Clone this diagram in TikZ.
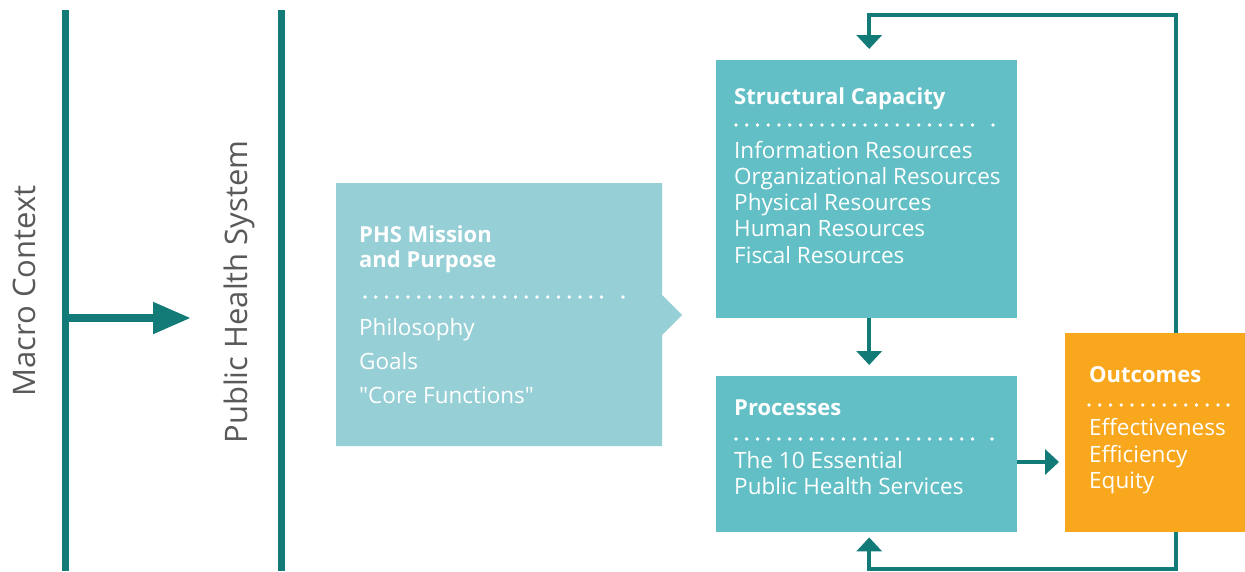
\documentclass[tikz,border=0pt]{standalone}
\usepackage{fontspec}
\setmainfont{Open Sans}
\usepackage{tikz}
\usetikzlibrary{arrows.meta}
\usetikzlibrary{calc}
\usetikzlibrary{positioning}
\definecolor{phs-teal}{HTML}{127B78}
\definecolor{phs-pale}{HTML}{96CFD5}
\definecolor{phs-aqua}{HTML}{62BFC5}
\definecolor{phs-orange}{HTML}{F9A71D}
\definecolor{phs-grey}{HTML}{58595B}

% straight double quote, past the tex-text mapping
\newcommand{\dquote}{\XeTeXglyph\XeTeXcharglyph"22\relax}
% row of dots under a box title: start, gaps, step, y, last dot
\newcommand{\dotrule}[5]{%
  \foreach \k in {0,...,#2} \fill[white] ({#1+\k*#3},#4) circle (1.8pt);
  \fill[white] (#5,#4) circle (1.8pt);}

\begin{document}
\begin{tikzpicture}[x=1pt, y=-1pt, line join=miter,
    box/.style={draw=none, inner sep=0pt, anchor=north west},
    boxtitle/.style={text=white, anchor=base west, inner sep=0pt, font=\fontsize{22}{26}\selectfont\bfseries},
    boxitem/.style={text=white, anchor=base west, inner sep=0pt, font=\fontsize{22.5}{27}\selectfont},
    sidelabel/.style={text=phs-grey, rotate=90, anchor=base, inner sep=0pt, font=\fontsize{31}{36}\selectfont},
    wall/.style={draw=phs-teal, line width=7pt},
    loop/.style={draw=phs-teal, line width=3.5pt, -{Triangle[width=25pt, length=14pt]}}]
    % frame
    \useasboundingbox (0,0) rectangle (1245,571);

    % macro context and public health system
    \draw[wall] (65,10) -- (65,571);
    \draw[wall] (281,10) -- (281,571);
    \node[sidelabel] (macro) at (35,291) {Macro Context};
    \node[sidelabel] (system) at (247,292) {Public Health System};
    \coordinate (macro-out) at (65,318);
    \coordinate (system-in) at (191,318);
    \draw[draw=phs-teal, line width=8pt, -{Triangle[width=30pt, length=38pt]}] (macro-out) -- (system-in);

    % mission box with notch
    \fill[phs-pale] (336,183) -- (662,183) -- (662,295) -- (682,315) -- (662,335) -- (662,446) -- (336,446) -- cycle;
    \node[boxtitle] (mission-a) at (359,242) {PHS Mission};
    \node[boxtitle] (mission-b) at (359,267) {and Purpose};
    \dotrule{365}{22}{10.75}{297}{623}
    \node[boxitem] (mission-1) at (359,335) {Philosophy};
    \node[boxitem] (mission-2) at (359,369) {Goals};
    \node[boxitem] (mission-3) at (359,403) {\dquote Core Functions\dquote};

    % structural capacity
    \node[box, fill=phs-aqua, minimum width=301pt, minimum height=258pt] (cap) at (716,60) {};
    \node[boxtitle] (cap-title) at (734,104) {Structural Capacity};
    \dotrule{736}{22}{10.75}{125}{993}
    \foreach \t [count=\i from 0] in {Information Resources, Organizational Resources,
        Physical Resources, Human Resources, Fiscal Resources}
        \node[boxitem] (cap-\i) at (734,158+26.25*\i) {\t};

    % processes
    \node[box, fill=phs-aqua, minimum width=301pt, minimum height=156pt] (proc) at (716,376) {};
    \node[boxtitle] (proc-title) at (734,415) {Processes};
    \dotrule{736}{22}{10.75}{439}{992}
    \node[boxitem] (proc-1) at (734,468) {The 10 Essential};
    \node[boxitem] (proc-2) at (734,494) {Public Health Services};

    % outcomes
    \node[box, fill=phs-orange, minimum width=180pt, minimum height=199pt] (outc) at (1065,333) {};
    \node[boxtitle] (outc-title) at (1089,382) {Outcomes};
    \dotrule{1089}{12}{10.75}{405}{1228}
    \node[boxitem] (outc-1) at (1089,435) {Effectiveness};
    \node[boxitem] (outc-2) at (1089,462) {Efficiency};
    \node[boxitem] (outc-3) at (1089,488) {Equity};

    % flows
    \coordinate (flow) at (1017,462);
    \coordinate (loop-top) at (1176,15);
    \coordinate (loop-bot) at (1176,569);
    \draw[loop, shorten >=11pt] ([xshift=2.5pt]cap.south) -- ([xshift=2.5pt]proc.north);
    \draw[loop, shorten >=6pt] (flow) -- (flow -| outc.west);
    \draw[loop, shorten >=11pt] (outc.north -| loop-top) -- (loop-top) -| ([xshift=2.5pt]cap.north);
    \draw[loop, shorten >=5pt] (outc.south -| loop-bot) -- (loop-bot) -| ([xshift=2.5pt]proc.south);

\end{tikzpicture}
\end{document}
